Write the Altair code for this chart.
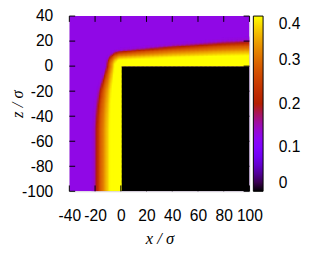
import math
import numpy as np
import pandas as pd
import altair as alt

# ---- values ----
X_RANGE = [-40, 100]
Z_RANGE = [-100, 40]
CELL = 1.0
OVERLAP = 0.6  # drawing overlap between neighbouring cells (hides anti-alias seams)

BULK_RHO = 0.127
WALL_RHO = 0.0
WALL_X = [0, 100]
WALL_Z = [-100, 0]

# density vs. (distance from wall / local film thickness)
PROFILE_S = [0.0, 0.3, 0.45, 0.5, 0.6, 0.7, 0.8, 0.85, 0.9, 0.95, 1.0, 1.05, 1.15]
PROFILE_RHO = [0.47, 0.43, 0.39, 0.375, 0.345, 0.31, 0.28, 0.255, 0.225, 0.19, 0.16, 0.137, 0.127]
# film thickness along the left face of the wall (by z)
LEFT_Z = [-100, -50, -40, -30, -20, -10, 0]
LEFT_W = [20.0, 20.0, 19.5, 18.5, 17.0, 14.0, 11.0]
# film thickness along the top face of the wall (by x)
TOP_X = [0, 10, 20, 40, 60, 80, 100]
TOP_W = [12.0, 13.0, 14.0, 16.0, 17.5, 19.0, 20.0]

X_TICKS = [-40, -20, 0, 20, 40, 60, 80, 100]
Z_TICKS = [-100, -80, -60, -40, -20, 0, 20, 40]
CB_TICKS = [0, 0.1, 0.2, 0.3, 0.4]
CB_MAX = 0.4


def density(x, z):
    if x >= 0 and z <= 0:
        return WALL_RHO
    if x < 0 and z <= 0:
        d = -x
        w = np.interp(z, LEFT_Z, LEFT_W)
    elif x >= 0 and z > 0:
        d = z
        w = np.interp(x, TOP_X, TOP_W)
    else:
        d = math.hypot(x, z)
        t = math.atan2(z, -x) / (math.pi / 2)
        w = LEFT_W[-1] * (1 - t) + TOP_W[0] * t
    return float(np.interp(d / w, PROFILE_S, PROFILE_RHO))


# background regions: bulk fluid and the solid wall
regions = pd.DataFrame({
    "x0": [X_RANGE[0], WALL_X[0]], "x1": [X_RANGE[1], WALL_X[1]],
    "z0": [Z_RANGE[0], WALL_Z[0]], "z1": [Z_RANGE[1], WALL_Z[1]],
    "rho": [BULK_RHO, WALL_RHO],
})

# adsorbed film cells
n = int(round((X_RANGE[1] - X_RANGE[0]) / CELL))
m = int(round((Z_RANGE[1] - Z_RANGE[0]) / CELL))
rows = []
for i in range(n):
    x0 = X_RANGE[0] + i * CELL
    for j in range(m):
        z0 = Z_RANGE[0] + j * CELL
        rho = density(x0 + CELL / 2, z0 + CELL / 2)
        if rho > BULK_RHO + 0.001:
            rows.append({"x0": x0, "x1": min(x0 + CELL + OVERLAP, X_RANGE[1]),
                         "z0": z0, "z1": min(z0 + CELL + OVERLAP, Z_RANGE[1]),
                         "rho": rho})
df = pd.DataFrame(rows)

# gnuplot default palette (rgbformulae 7,5,15)
colors = []
for k in range(21):
    f = k / 20
    r = math.sqrt(f)
    g = f ** 3
    b = max(0.0, math.sin(2 * math.pi * f))
    colors.append("#%02x%02x%02x" % (round(r * 255), round(g * 255), round(b * 255)))

cscale = alt.Scale(domain=[0, CB_MAX], range=colors, clamp=True, interpolate="rgb")
xs = alt.Scale(domain=X_RANGE, nice=False, zero=False)
zs = alt.Scale(domain=Z_RANGE, nice=False, zero=False)

W = 185
H = 180
FONT = "Liberation Sans"
NUM = "datum.value < 0 ? '-' + abs(datum.value) : '' + datum.value"

x_axis = alt.Axis(values=X_TICKS, ticks=False, domain=False, grid=False,
                  labelFont=FONT, labelFontSize=16, labelColor="black",
                  labelPadding=17, labelFlush=False, labelOverlap=False, labelExpr=NUM,
                  titleFont="Liberation Serif", titleFontStyle="italic",
                  titleFontWeight="normal", titleFontSize=17, titleColor="black",
                  titleX=W / 2, titleY=49, titleAlign="center",
                  titleBaseline="middle")
z_axis = alt.Axis(values=Z_TICKS, ticks=False, domain=False, grid=False,
                  labelFont=FONT, labelFontSize=16, labelColor="black",
                  labelPadding=17, labelFlush=False, labelOverlap=False, labelExpr=NUM,
                  titleFont="Liberation Serif", titleFontStyle="italic",
                  titleFontWeight="normal", titleFontSize=17, titleColor="black",
                  titleX=-53, titleY=H / 2, titleAlign="center",
                  titleBaseline="middle")
X_TITLE = "x / σ"
Z_TITLE = "z / σ"

legend = alt.Legend(title=None, orient="right", offset=4,
                    type="gradient", direction="vertical",
                    gradientLength=H, gradientThickness=10,
                    gradientStrokeColor="black", gradientStrokeWidth=1,
                    values=CB_TICKS, format=".1~f",
                    labelFont=FONT, labelFontSize=16, labelColor="black",
                    labelOffset=16, labelBaseline="middle",
                    labelOverlap=False, padding=0)


def cells(data):
    return alt.Chart(data).mark_rect(clip=True, opacity=1).encode(
        x=alt.X("x0:Q", scale=xs, title=X_TITLE, axis=x_axis),
        x2="x1:Q",
        y=alt.Y("z0:Q", scale=zs, title=Z_TITLE, axis=z_axis),
        y2="z1:Q",
        color=alt.Color("rho:Q", scale=cscale, legend=legend),
    )


back = cells(regions)
heat = cells(df)

xt = pd.DataFrame({"v": X_TICKS})
zt = pd.DataFrame({"v": Z_TICKS})
TL = 6
tick_top = alt.Chart(xt).mark_rule(color="black").encode(
    x=alt.X("v:Q", scale=xs, title=X_TITLE, axis=x_axis), y=alt.value(0), y2=alt.value(TL))
tick_bot = alt.Chart(xt).mark_rule(color="black").encode(
    x=alt.X("v:Q", scale=xs, title=X_TITLE, axis=x_axis), y=alt.value(H - TL), y2=alt.value(H))
tick_left = alt.Chart(zt).mark_rule(color="black").encode(
    y=alt.Y("v:Q", scale=zs, title=Z_TITLE, axis=z_axis), x=alt.value(0), x2=alt.value(TL))
tick_right = alt.Chart(zt).mark_rule(color="black").encode(
    y=alt.Y("v:Q", scale=zs, title=Z_TITLE, axis=z_axis), x=alt.value(W - TL), x2=alt.value(W))

chart = alt.layer(back, heat, tick_top, tick_bot, tick_left, tick_right).properties(
    width=W, height=H,
    autosize=alt.AutoSizeParams(type="none"),
    padding={"left": 63, "top": 5, "right": 55, "bottom": 57},
).configure_view(stroke="black", strokeWidth=1).configure(background="white")

chart.save("out.html", embed_options={"renderer": "svg", "actions": False})
